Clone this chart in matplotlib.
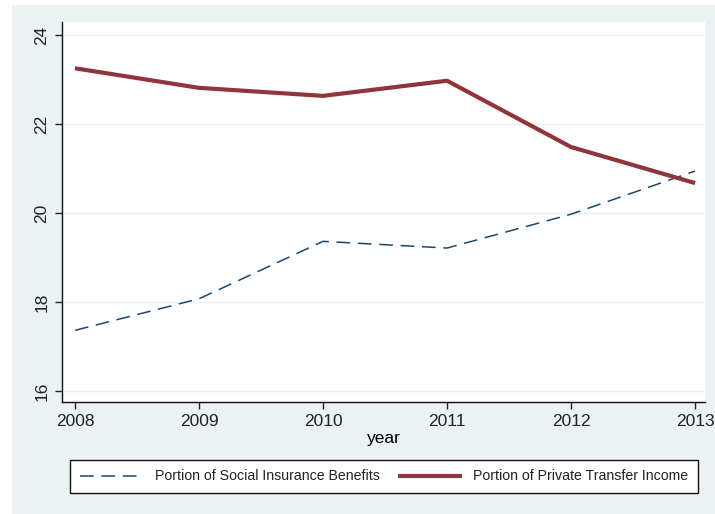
"""Stata-style line chart: social insurance vs private transfer income portions."""

import matplotlib.pyplot as plt
import matplotlib as mpl
from matplotlib.patches import Rectangle

YEARS = [2008, 2009, 2010, 2011, 2012, 2013]
SOCIAL = [17.36, 18.07, 19.36, 19.21, 19.97, 20.94]
PRIVATE = [23.25, 22.81, 22.63, 22.97, 21.48, 20.67]
Y_TICKS = [16, 18, 20, 22, 24]

COLOR_SOCIAL = "#1A476F"
COLOR_PRIVATE = "#90353B"
COLOR_BG = "#EAF2F3"
COLOR_GRID = "#EAF2F3"


def main() -> None:
    mpl.rcParams.update(
        {
            "font.family": ["Liberation Sans", "DejaVu Sans"],
            "font.size": 12.5,
            "text.color": "#222222",
            "xtick.color": "#222222",
            "ytick.color": "#222222",
        }
    )

    fig = plt.figure(figsize=(7.15, 5.14), dpi=100, facecolor="white")
    fig.patches.append(
        Rectangle((12 / 715, 0), 1, 1 - 5 / 514, transform=fig.transFigure,
                  facecolor=COLOR_BG, edgecolor="none", zorder=-10)
    )

    ax = fig.add_axes([62 / 715, 1 - 402 / 514, (705 - 62) / 715, (402 - 22) / 514])
    ax.set_zorder(1)
    ax.set_facecolor("white")

    ax.plot(YEARS, SOCIAL, color=COLOR_SOCIAL, linewidth=1.1,
            linestyle=(0, (9, 5)), label="Portion of Social Insurance Benefits")
    ax.plot(YEARS, PRIVATE, color=COLOR_PRIVATE, linewidth=3.0,
            solid_capstyle="butt", label="Portion of Private Transfer Income")

    ax.set_xlim(2007.895, 2013.08)
    ax.set_ylim(15.75, 24.29)
    ax.set_xticks(YEARS)
    ax.set_yticks(Y_TICKS)
    ax.set_yticklabels([str(t) for t in Y_TICKS], rotation=90, va="center")
    ax.tick_params(axis="both", length=5, width=1, labelsize=12.5, pad=4)
    ax.grid(True, axis="y", color=COLOR_GRID, linewidth=1.0)
    ax.set_axisbelow(True)
    ax.set_xlabel("year", fontsize=12.5, labelpad=1)

    for side in ("top", "right"):
        ax.spines[side].set_visible(False)
    for side in ("left", "bottom"):
        ax.spines[side].set_linewidth(1.0)
        ax.spines[side].set_color("#111111")

    handles, labels = ax.get_legend_handles_labels()
    leg = fig.legend(
        handles, labels,
        loc="center",
        bbox_to_anchor=(70 / 715, 1 - 493 / 514, 628 / 715, 33 / 514),
        bbox_transform=fig.transFigure,
        mode="expand",
        ncol=2,
        fontsize=10.2,
        frameon=True,
        fancybox=False,
        framealpha=1.0,
        edgecolor="#111111",
        borderpad=0.7,
        handlelength=4.5,
        handletextpad=0.8,
        columnspacing=1.5,
        borderaxespad=0,
    )
    leg.get_frame().set_linewidth(1.0)

    fig.savefig("out.png", dpi=100, facecolor=fig.get_facecolor())
    plt.close(fig)


if __name__ == "__main__":
    main()
